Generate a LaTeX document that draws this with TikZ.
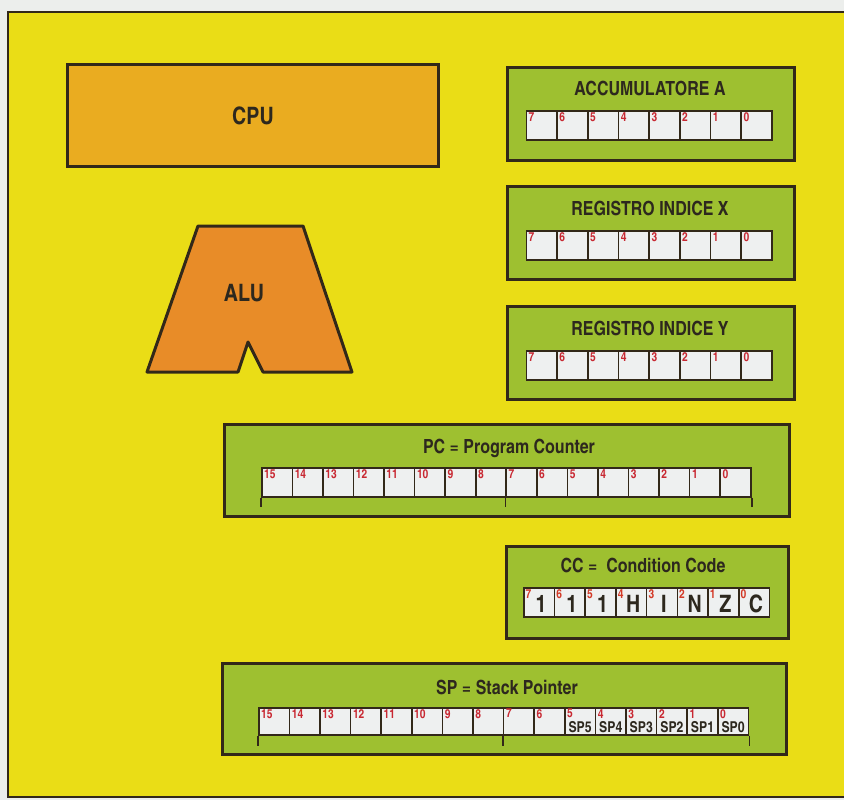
\documentclass[tikz,border=0pt]{standalone}
\usepackage{fontspec}
\newfontfamily\cnb{texgyreheroscn-bold}[Extension=.otf]
\definecolor{paper}{RGB}{236,238,236}
\definecolor{panelYellow}{RGB}{234,221,22}
\definecolor{cpuOrange}{RGB}{234,172,32}
\definecolor{aluOrange}{RGB}{232,140,40}
\definecolor{regGreen}{RGB}{158,192,48}
\definecolor{edge}{RGB}{50,40,25}
\definecolor{cellWhite}{RGB}{238,240,240}
\definecolor{bitRed}{RGB}{200,40,50}
\definecolor{textDark}{RGB}{45,40,30}
\tikzset{
  panel/.style={draw=edge, line width=3pt, fill=regGreen, anchor=north west, inner sep=0},
  cell/.style={draw=edge, line width=1.6pt, fill=cellWhite, minimum width=30.7pt, minimum height=29pt, inner sep=0, anchor=north west},
  bitnum/.style={text=bitRed, font=\cnb\fontsize{12.5}{12.5}\selectfont, anchor=north west, inner sep=0},
  title/.style={font=\cnb\fontsize{19.5}{19.5}\selectfont, text=textDark, inner sep=0},
  big/.style={font=\cnb\fontsize{24}{24}\selectfont, text=textDark, inner sep=0},
  tick/.style={draw=edge, line width=1.6pt},
}
\begin{document}
\begin{tikzpicture}[x=1pt,y=-1pt]
\useasboundingbox (0,0) rectangle (844,800);
\fill[paper] (0,0) rectangle (844,800);
% yellow panel
\fill[panelYellow] (8,12) rectangle (844,797);
\draw[edge, line width=2.5pt] (844,12) -- (8,12) -- (8,797) -- (844,797);

% CPU
\node[draw=edge, line width=3pt, fill=cpuOrange, anchor=north west, minimum width=371pt, minimum height=102pt, inner sep=0] (cpu) at (66,63) {};
\node[big] (cputxt) at (cpu.center) {CPU};

% ALU
\draw[edge, line width=3pt, fill=aluOrange, line join=round]
  (198,226) -- (303,226) -- (352,372) -- (263,372) -- (248,342) -- (238,372) -- (147,372) -- cycle;
\node[big] (alutxt) at (244,293) {ALU};

% 8-bit registers
\newcommand{\eightreg}[4]{% name, box y, title, title y
  \node[panel, minimum width=287pt, minimum height=93pt] (#1) at (506,#2) {};
  \node[title] (#1-t) at (650,#4) {#3};
  \foreach \i in {0,...,7} {
    \pgfmathtruncatemacro\b{7-\i}
    \node[cell] (#1-c\i) at ({525.5+\i*30.7},{#4+22}) {};
    \node[bitnum, xshift=3pt, yshift=-2.5pt] (#1-b\i) at (#1-c\i.north west) {\b};
  }
}
\eightreg{acc}{66}{ACCUMULATORE A}{88}
\eightreg{rx}{185}{REGISTRO INDICE X}{208}
\eightreg{ry}{305}{REGISTRO INDICE Y}{328}

% PC
\node[panel, minimum width=565pt, minimum height=92pt] (pc) at (223,423) {};
\node[title] (pc-t) at (509,448) {PC = Program Counter};
\foreach \i in {0,...,15} {
  \pgfmathtruncatemacro\b{15-\i}
  \node[cell] (pc-c\i) at ({261+\i*30.56},467) {};
  \node[bitnum, xshift=3pt, yshift=-2.5pt] (pc-b\i) at (pc-c\i.north west) {\b};
}
\draw[tick] (pc-c0.south west) -- ++(0,9);
\draw[tick] (pc-c8.south west) -- ++(0,9);
\draw[tick] (pc-c15.south east) -- ++(0,9);

% CC
\node[panel, minimum width=282pt, minimum height=92pt] (cc) at (505,545) {};
\node[title] (cc-t) at (643,565) {CC =\ \ Condition Code};
\foreach \i/\v in {0/1,1/1,2/1,3/H,4/I,5/N,6/Z,7/C} {
  \pgfmathtruncatemacro\b{7-\i}
  \node[cell] (cc-c\i) at ({523+\i*30.7},587) {};
  \node[bitnum, xshift=2.5pt, yshift=-2.5pt, text=bitRed!80!orange] (cc-b\i) at (cc-c\i.north west) {\b};
  \node[big, xshift=2pt, yshift=-2pt] (cc-v\i) at (cc-c\i.center) {\v};
}

% SP
\node[panel, minimum width=564pt, minimum height=91pt] (sp) at (221,662) {};
\node[title] (sp-t) at (507,687) {SP = Stack Pointer};
\foreach \i in {0,...,15} {
  \pgfmathtruncatemacro\b{15-\i}
  \node[cell, minimum height=27pt] (sp-c\i) at ({258+\i*30.6},707) {};
  \node[bitnum, xshift=3pt, yshift=-2pt] (sp-b\i) at (sp-c\i.north west) {\b};
  \ifnum\b<6
    \node[font=\cnb\fontsize{15}{15}\selectfont, text=textDark, anchor=south, inner sep=0, yshift=3pt] (sp-s\i) at (sp-c\i.south) {SP\b};
  \fi
}
\draw[tick] (sp-c0.south west) -- ++(0,10);
\draw[tick] (sp-c8.south west) -- ++(0,10);
\draw[tick] (sp-c15.south east) -- ++(0,10);
\end{tikzpicture}
\end{document}
